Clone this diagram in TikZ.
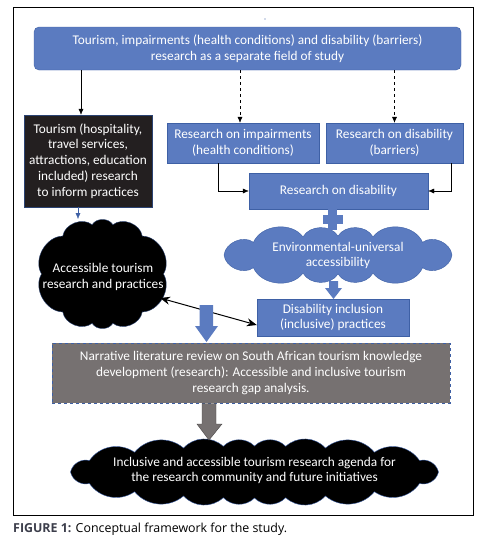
\documentclass[tikz,border=0pt]{standalone}
\usepackage{fontspec}
\setmainfont{Carlito}
\newfontfamily\capfont{Open Sans}
\usetikzlibrary{arrows.meta}

\definecolor{boxblue}{RGB}{91,123,192}
\definecolor{lineblue}{RGB}{62,96,165}
\definecolor{darkbox}{RGB}{35,31,32}
\definecolor{boxgrey}{RGB}{118,113,113}
\definecolor{capgrey}{RGB}{60,62,75}

% cloud outline: style, centre x, centre y, radius x, radius y, puffs, bend
\newcommand{\puffcloud}[7]{%
	\filldraw[#1] ({#2+#4},#3) \foreach \k in {1,...,#6} {
		to[bend left=#7] ({#2+#4*cos(360*\k/#6+14*sin(720*\k/#6))},{#3+#5*sin(360*\k/#6+14*sin(720*\k/#6))})
	} -- cycle;
}

\tikzset{
	bluebox/.style={draw=lineblue,fill=boxblue,text=white,align=center,inner sep=0pt},
	blackbox/.style={draw=lineblue!70!black,fill=darkbox,text=white,align=center,inner sep=0pt},
	greybox/.style={draw=lineblue,dashed,fill=boxgrey,text=white,align=center,inner sep=0pt},
	cloudtext/.style={align=center,inner sep=0pt,text=white},
}

\begin{document}
\begin{tikzpicture}[x=1pt,y=-1pt,>={Latex[length=6pt,width=5pt]},font=\fontsize{13.3}{15.8}\selectfont]
	\useasboundingbox (0,0) rectangle (479,542);
	% Frame
	\draw[black,line width=0.9pt] (13,7) rectangle (473,515);
	\fill[lineblue] (265,19) circle (0.6);

	% Boxes
	\node[bluebox,rounded corners=5pt,minimum width=427pt,minimum height=43pt] (field) at (247.5,48.5)
		{Tourism, impairments (health conditions) and disability (barriers)\\research as a separate field of study};
	\node[blackbox,minimum width=128pt,minimum height=92pt] (tourism) at (88,161)
		{Tourism (hospitality,\\travel services,\\attractions, education\\included) research\\to inform practices};
	\node[bluebox,minimum width=152pt,minimum height=40pt] (impair) at (243,143)
		{Research on impairments\\(health conditions)};
	\node[bluebox,minimum width=137pt,minimum height=40pt] (barrier) at (394.5,143)
		{Research on disability\\(barriers)};
	\node[bluebox,minimum width=179pt,minimum height=36pt] (disab) at (338.5,191)
		{Research on disability};
	\node[bluebox,minimum width=152pt,minimum height=37pt] (inclus) at (333,317.5)
		{Disability inclusion\\(inclusive) practices};
	\node[greybox,minimum width=398pt,minimum height=60pt] (review) at (251,373)
		{Narrative literature review on South African tourism knowledge\\development (research): Accessible and inclusive tourism\\research gap analysis.};

	% Clouds
	\puffcloud{draw=lineblue!70!black,fill=black}{102.5}{274}{61}{50}{10}{60}
	\node[cloudtext] (access) at (103,277) {Accessible tourism\\research and practices};
	\puffcloud{draw=lineblue,fill=boxblue}{338}{255}{114}{19}{12}{60}
	\node[cloudtext] (environ) at (338,255.5) {Environmental-universal\\accessibility};
	\puffcloud{draw=lineblue,fill=black}{254.5}{472}{184}{26}{20}{45}
	\node[cloudtext] (agenda) at (254.5,470.5)
		{Inclusive and accessible tourism research agenda for\\the research community and future initiatives};

	% Arrows from the field box
	\draw[->] ([xshift=-7pt]tourism.north |- field.south) -- ([xshift=-7pt]tourism.north);
	\draw[->,dashed] ([xshift=-3pt]impair.north |- field.south) -- ([xshift=-3pt]impair.north);
	\draw[->,dashed] (barrier.north |- field.south) -- (barrier.north);

	% Elbows into research on disability
	\draw[->] ([xshift=-25pt]impair.south) |- (disab.west);
	\draw[->] ([xshift=-12pt]barrier.south east) |- (disab.east);

	% Tourism to cloud
	\coordinate (accesstop) at (78,219);
	\draw[->,lineblue] ([xshift=-10pt]tourism.south) -- (accesstop);

	% Plus sign
	\fill[boxblue] (328,209) rectangle (337,230);
	\fill[boxblue] (322.5,215) rectangle (342.5,223.5);

	% Block arrow cloud to inclusion
	\fill[boxblue] (329,281) -- (338,281) -- (338,288) -- (342,288) -- (333.5,299) -- (325,288) -- (329,288) -- cycle;

	% Double arrow
	\coordinate (accesseast) at (160,298);
	\draw[{Stealth[length=10pt,width=8pt]}-{Stealth[length=10pt,width=8pt]},line width=1pt] (accesseast) -- ([yshift=-7.5pt]inclus.west);

	% Block arrows down
	\fill[boxblue] (199.5,305) -- (213,305) -- (213,326) -- (218,326) -- (206.5,342) -- (195,326) -- (199.5,326) -- cycle;
	\filldraw[draw=boxgrey!60!black,fill=boxgrey] (202,403.5) -- (216,403.5) -- (216,424) -- (222,424) -- (209,440) -- (197,424) -- (202,424) -- cycle;

	% Caption
	\node[anchor=west,inner sep=0pt,font=\capfont\fontsize{12.4}{14}\selectfont] (caption) at (13,529)
		{\textcolor{capgrey}{\bfseries FIGURE 1:} Conceptual framework for the study.};
\end{tikzpicture}
\end{document}
